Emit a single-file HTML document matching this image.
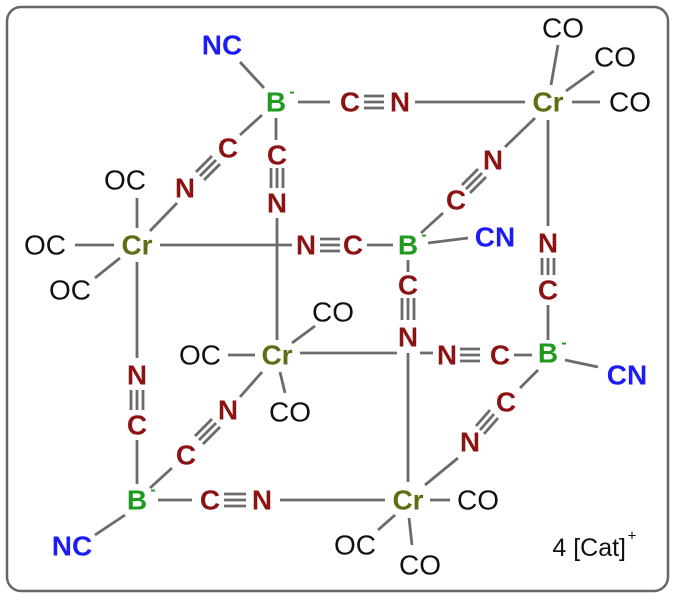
<!DOCTYPE html>
<html><head><meta charset="utf-8"><style>
html,body{margin:0;padding:0;background:#fff;}
svg{display:block}
text{font-family:"Liberation Sans",Arial,sans-serif;font-size:28px;dominant-baseline:central;text-anchor:middle}
.r{fill:#8c1313;font-weight:bold}
.g{fill:#1f9a1f;font-weight:bold}
.b{fill:#1c1cf5;font-weight:bold}
.cr{fill:#5b7016;font-weight:bold}
.k{fill:#111}
.m{font-size:16px;fill:#1f9a1f;font-weight:bold}
</style></head><body>
<svg width="676" height="600" viewBox="0 0 676 600">
<rect x="7" y="7" width="661" height="584" rx="14" fill="#fff" stroke="#666" stroke-width="2.5"/>
<g stroke="#6b6b6b" stroke-width="2.8" fill="none">
<line x1="240" y1="62" x2="264" y2="88"/>
<line x1="298" y1="102" x2="330" y2="102"/>
<line x1="415" y1="102" x2="525" y2="102"/>
<line x1="364" y1="96" x2="384" y2="96"/><line x1="364" y1="102" x2="384" y2="102"/><line x1="364" y1="108" x2="384" y2="108"/>
<line x1="551" y1="85" x2="558" y2="45"/>
<line x1="566" y1="91" x2="594" y2="71"/>
<line x1="572" y1="102" x2="600" y2="102"/>
<line x1="548" y1="120" x2="548" y2="226"/>
<line x1="542" y1="258" x2="542" y2="275"/><line x1="548" y1="258" x2="548" y2="275"/><line x1="554" y1="258" x2="554" y2="275"/>
<line x1="548" y1="305" x2="548" y2="340"/>
<line x1="535" y1="118" x2="505" y2="147"/>
<line x1="478" y1="169" x2="462" y2="185"/><line x1="482" y1="173" x2="466" y2="189"/><line x1="486" y1="177" x2="470" y2="193"/>
<line x1="443" y1="213" x2="421" y2="233"/>
<line x1="428" y1="243" x2="468" y2="238"/>
<line x1="367" y1="245" x2="393" y2="245"/>
<line x1="320" y1="239" x2="340" y2="239"/><line x1="320" y1="245" x2="340" y2="245"/><line x1="320" y1="251" x2="340" y2="251"/>
<line x1="276" y1="118" x2="276" y2="140"/>
<line x1="271" y1="168" x2="271" y2="188"/><line x1="277" y1="168" x2="277" y2="188"/><line x1="283" y1="168" x2="283" y2="188"/>
<line x1="277" y1="218" x2="277" y2="340"/>
<line x1="262" y1="115" x2="240" y2="135"/>
<line x1="212" y1="156" x2="196" y2="172"/><line x1="216" y1="160" x2="200" y2="176"/><line x1="220" y1="164" x2="204" y2="180"/>
<line x1="177" y1="203" x2="150" y2="231"/>
<line x1="160" y1="245" x2="292" y2="245"/>
<line x1="137" y1="228" x2="137" y2="198"/>
<line x1="75" y1="245" x2="114" y2="245"/>
<line x1="120" y1="258" x2="95" y2="278"/>
<line x1="137" y1="262" x2="137" y2="358"/>
<line x1="131" y1="390" x2="131" y2="410"/><line x1="137" y1="390" x2="137" y2="410"/><line x1="143" y1="390" x2="143" y2="410"/>
<line x1="137" y1="440" x2="137" y2="484"/>
<line x1="125" y1="515" x2="95" y2="535"/>
<line x1="158" y1="500" x2="192" y2="500"/>
<line x1="224" y1="494" x2="246" y2="494"/><line x1="224" y1="500" x2="246" y2="500"/><line x1="224" y1="506" x2="246" y2="506"/>
<line x1="280" y1="500" x2="385" y2="500"/>
<line x1="150" y1="488" x2="172" y2="468"/>
<line x1="212" y1="419" x2="195" y2="436"/><line x1="216" y1="423" x2="199" y2="440"/><line x1="220" y1="427" x2="203" y2="444"/>
<line x1="240" y1="397" x2="262" y2="372"/>
<line x1="292" y1="343" x2="315" y2="326"/>
<line x1="228" y1="355" x2="255" y2="355"/>
<line x1="280" y1="372" x2="285" y2="393"/>
<line x1="300" y1="353" x2="397" y2="353"/>
<line x1="408" y1="260" x2="408" y2="272"/>
<line x1="402" y1="298" x2="402" y2="320"/><line x1="408" y1="298" x2="408" y2="320"/><line x1="414" y1="298" x2="414" y2="320"/>
<line x1="408" y1="353" x2="408" y2="482"/>
<line x1="420" y1="353" x2="433" y2="353"/>
<line x1="460" y1="349" x2="480" y2="349"/><line x1="460" y1="355" x2="480" y2="355"/><line x1="460" y1="361" x2="480" y2="361"/>
<line x1="514" y1="355" x2="532" y2="355"/>
<line x1="565" y1="360" x2="598" y2="367"/>
<line x1="538" y1="370" x2="520" y2="388"/>
<line x1="490" y1="410" x2="476" y2="426"/><line x1="494" y1="414" x2="480" y2="430"/><line x1="498" y1="418" x2="484" y2="434"/>
<line x1="458" y1="458" x2="425" y2="485"/>
<line x1="430" y1="500" x2="450" y2="500"/>
<line x1="395" y1="515" x2="378" y2="530"/>
<line x1="409" y1="518" x2="412" y2="545"/>
</g>
<text x="222" y="45" class="b">NC</text>
<text x="276" y="102" class="g">B</text><text x="292" y="92" class="m">-</text>
<text x="350" y="102" class="r">C</text><text x="400" y="102" class="r">N</text>
<text x="548" y="102" class="cr">Cr</text>
<text x="563" y="28" class="k">CO</text>
<text x="615" y="57" class="k">CO</text>
<text x="630" y="102" class="k">CO</text>
<text x="277" y="155" class="r">C</text><text x="277" y="203" class="r">N</text>
<text x="228" y="148" class="r">C</text><text x="185" y="188" class="r">N</text>
<text x="125" y="180" class="k">OC</text>
<text x="45" y="245" class="k">OC</text>
<text x="137" y="245" class="cr">Cr</text>
<text x="70" y="290" class="k">OC</text>
<text x="306" y="245" class="r">N</text><text x="353" y="245" class="r">C</text>
<text x="408" y="245" class="g">B</text><text x="424" y="235" class="m">-</text>
<text x="495" y="237" class="b">CN</text>
<text x="493" y="160" class="r">N</text><text x="456" y="200" class="r">C</text>
<text x="548" y="243" class="r">N</text><text x="548" y="290" class="r">C</text>
<text x="408" y="285" class="r">C</text><text x="408" y="337" class="r">N</text>
<text x="333" y="312" class="k">CO</text>
<text x="200" y="355" class="k">OC</text>
<text x="277" y="355" class="cr">Cr</text>
<text x="290" y="412" class="k">CO</text>
<text x="447" y="355" class="r">N</text><text x="500" y="355" class="r">C</text>
<text x="548" y="353" class="g">B</text><text x="564" y="343" class="m">-</text>
<text x="627" y="375" class="b">CN</text>
<text x="137" y="375" class="r">N</text><text x="137" y="425" class="r">C</text>
<text x="228" y="410" class="r">N</text><text x="186" y="455" class="r">C</text>
<text x="470" y="442" class="r">N</text><text x="506" y="402" class="r">C</text>
<text x="137" y="500" class="g">B</text><text x="153" y="490" class="m">-</text>
<text x="210" y="500" class="r">C</text><text x="262" y="500" class="r">N</text>
<text x="408" y="500" class="cr">Cr</text>
<text x="478" y="500" class="k">CO</text>
<text x="72" y="546" class="b">NC</text>
<text x="355" y="545" class="k">OC</text>
<text x="420" y="565" class="k">CO</text>
<text x="626" y="548" class="k" style="font-size:25px;text-anchor:end">4 [Cat]</text>
<text x="632" y="536" class="k" style="font-size:15px">+</text>
</svg>
</body></html>
